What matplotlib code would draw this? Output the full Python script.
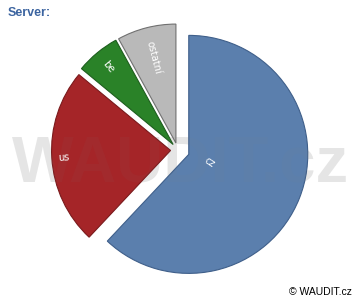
import matplotlib
matplotlib.use("Agg")
import matplotlib.pyplot as plt
import numpy as np

categories = ["cz", "us", "be", "ostatní"]
values = [62, 24, 6, 8]
colors = ["#5b7fad", "#a52528", "#2a8228", "#b9b9b9"]
edgecolors = ["#3f5f8a", "#7a1a1c", "#1d5e1d", "#707070"]
explode = [0.10, 0.06, 0.06, 0.06]
label_frac = [0.19, 0.90, 0.85, 0.74]

W, H = 360, 300
fig = plt.figure(figsize=(W / 100, H / 100), dpi=100)

# watermark behind the pie
wm_kw = dict(fontsize=47, fontweight="bold", family="Liberation Sans",
             ha="center", va="baseline")
fig.text(181 / W, 1 - 181 / H, "WAUDIT.cz", color="#ececec", zorder=-5, **wm_kw)

ax = fig.add_axes([0, 0, 1, 1])
ax.patch.set_visible(False)

cx, cy, r = 177.7, 150.0, 119.0

wedges, _ = ax.pie(values, startangle=90, counterclock=False,
                   explode=explode, colors=colors, radius=1.0,
                   wedgeprops=dict(linewidth=0.8))
for w, ec in zip(wedges, edgecolors):
    w.set_edgecolor(ec)

ax.set_aspect("auto")
ax.set_xlim(-cx / r, (W - cx) / r)
ax.set_ylim(-(H - cy) / r, cy / r)
ax.set_axis_off()

for w, lab, f in zip(wedges, categories, label_frac):
    mid = (w.theta1 + w.theta2) / 2.0
    m = np.deg2rad(mid)
    x = w.center[0] + f * np.cos(m)
    y = w.center[1] + f * np.sin(m)
    rot = mid % 360
    if 90 < rot < 270:
        rot -= 180
    if lab == "cz":
        rot -= 12
    ax.text(x, y, lab, color="white", fontsize=7, rotation=rot,
            ha="center", va="center", rotation_mode="anchor",
            family="DejaVu Sans")

# faint watermark overlay on top of the pie
fig.text(181 / W, 1 - 181 / H, "WAUDIT.cz", color="#808080", alpha=0.06,
         zorder=10, **wm_kw)

fig.text(8 / W, 1 - 16 / H, "Server:", fontsize=9, fontweight="bold",
         family="Liberation Sans", color="#3c64a0", ha="left", va="baseline")
fig.text(352 / W, 1 - 295 / H, "© WAUDIT.cz", fontsize=7.5,
         family="Liberation Sans", color="black", ha="right", va="baseline")

fig.savefig("out.png", dpi=100)
